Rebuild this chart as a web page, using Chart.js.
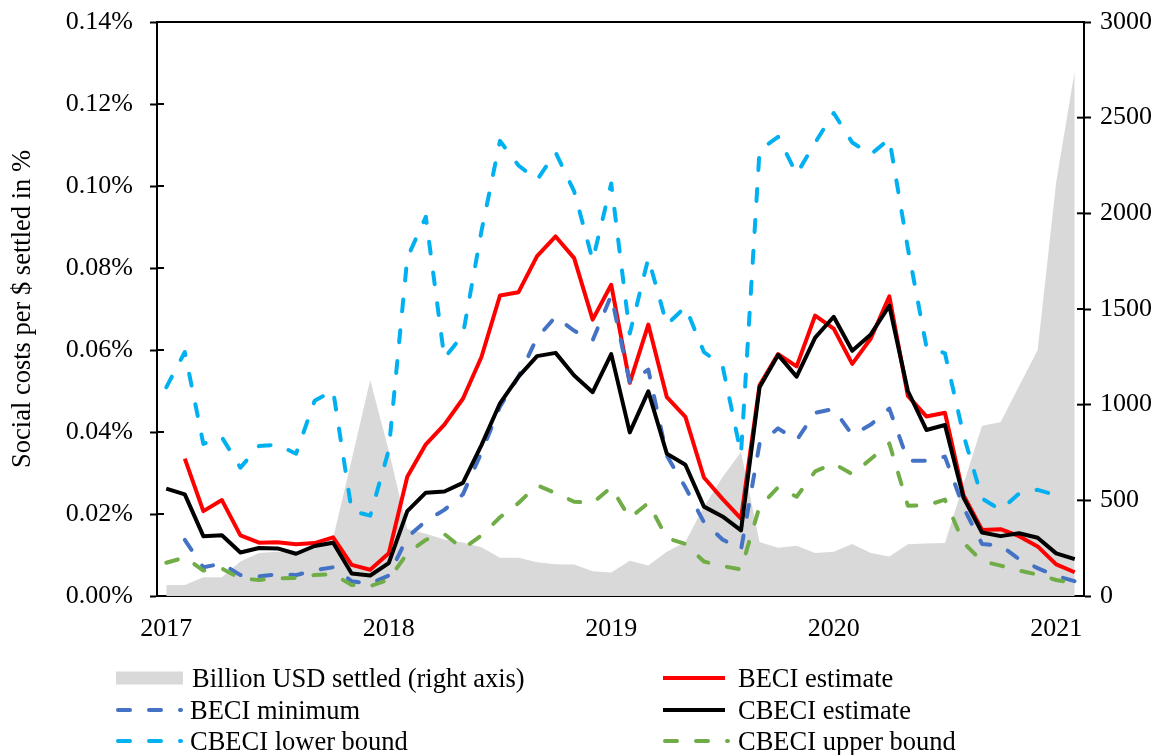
<!DOCTYPE html>
<html><head><meta charset="utf-8">
<script src="https://cdn.jsdelivr.net/npm/chart.js@4/dist/chart.umd.min.js"></script>
<style>
html,body{margin:0;padding:0;background:#fff;}
#wrap{position:relative;width:1166px;height:755px;overflow:hidden;}
#c{position:absolute;left:0;top:0;}
.lg{position:absolute;height:32px;font-family:"Liberation Serif","Times New Roman",serif;font-size:26.5px;color:#000;line-height:32px;white-space:nowrap;}
.lg svg{position:absolute;left:0;top:0;}
.lg span{position:absolute;top:0;}
</style></head><body>
<div id="wrap"><canvas id="c" width="1166" height="755"></canvas><div id="legend"></div></div>
<script>
const categories = [
 'Jan 2017','Feb 2017','Mar 2017','Apr 2017','May 2017','Jun 2017','Jul 2017','Aug 2017','Sep 2017','Oct 2017','Nov 2017','Dec 2017',
 'Jan 2018','Feb 2018','Mar 2018','Apr 2018','May 2018','Jun 2018','Jul 2018','Aug 2018','Sep 2018','Oct 2018','Nov 2018','Dec 2018',
 'Jan 2019','Feb 2019','Mar 2019','Apr 2019','May 2019','Jun 2019','Jul 2019','Aug 2019','Sep 2019','Oct 2019','Nov 2019','Dec 2019',
 'Jan 2020','Feb 2020','Mar 2020','Apr 2020','May 2020','Jun 2020','Jul 2020','Aug 2020','Sep 2020','Oct 2020','Nov 2020','Dec 2020',
 'Jan 2021','Feb 2021'];

// Billion USD settled (right axis)
const usdSettled = [57,57,98,98,180,225,231,225,252,303,712,1129,
 760,350,325,295,280,255,200,200,176,166,164,129,
 123,184,160,231,282,467,620,753,282,252,262,225,
 231,272,225,207,270,274,277,584,890,908,1097,1286,
 2164,2745];

// Social costs per $ settled, in %
const beciEstimate = [null,0.0335,0.0207,0.0234,0.0148,0.0130,0.0131,0.0126,0.0129,0.0143,0.0076,0.0064,
 0.0104,0.0291,0.0370,0.0418,0.0481,0.0583,0.0733,0.0741,0.0829,0.0877,0.0824,0.0674,
 0.0759,0.0520,0.0662,0.0485,0.0437,0.0289,0.0237,0.0189,0.0514,0.0590,0.0560,0.0684,
 0.0652,0.0566,0.0628,0.0731,0.0488,0.0438,0.0447,0.0246,0.0161,0.0163,0.0146,0.0121,
 0.0077,0.0058];

const beciMinimum = [null,0.0137,0.0070,0.0079,0.0051,0.0048,0.0053,0.0051,0.0063,0.0070,0.0036,0.0030,
 0.0050,0.0143,0.0183,0.0210,0.0248,0.0350,0.0462,0.0535,0.0630,0.0681,0.0647,0.0624,
 0.0733,0.0521,0.0552,0.0342,0.0265,0.0180,0.0138,0.0113,0.0371,0.0409,0.0380,0.0447,
 0.0456,0.0393,0.0418,0.0457,0.0330,0.0330,0.0340,0.0216,0.0127,0.0123,0.0090,0.0068,
 0.0049,0.0036];

const cbeciEstimate = [0.0262,0.0248,0.0146,0.0148,0.0106,0.0117,0.0116,0.0103,0.0122,0.0130,0.0055,0.0050,
 0.0080,0.0207,0.0252,0.0255,0.0276,0.0368,0.0470,0.0535,0.0585,0.0593,0.0538,0.0497,
 0.0590,0.0399,0.0499,0.0347,0.0320,0.0218,0.0194,0.0160,0.0509,0.0588,0.0535,0.0630,
 0.0681,0.0598,0.0638,0.0708,0.0500,0.0405,0.0417,0.0240,0.0155,0.0146,0.0153,0.0142,
 0.0104,0.0090];

const cbeciLower = [0.0509,0.0595,0.0371,0.0387,0.0313,0.0366,0.0369,0.0347,0.0476,0.0501,0.0208,0.0196,
 0.0356,0.0825,0.0925,0.0580,0.0637,0.0890,0.1110,0.1050,0.1015,0.1082,0.0987,0.0819,
 0.1006,0.0640,0.0824,0.0662,0.0705,0.0595,0.0562,0.0347,0.1087,0.1120,0.1029,0.1106,
 0.1178,0.1106,0.1077,0.1115,0.0848,0.0608,0.0592,0.0393,0.0238,0.0210,0.0250,0.0259,
 0.0246,null];

const cbeciUpper = [0.0081,0.0094,0.0062,0.0067,0.0043,0.0039,0.0043,0.0044,0.0051,0.0053,0.0027,0.0024,
 0.0040,0.0104,0.0137,0.0151,0.0115,0.0148,0.0192,0.0227,0.0270,0.0251,0.0230,0.0227,
 0.0265,0.0190,0.0227,0.0141,0.0127,0.0084,0.0073,0.0065,0.0218,0.0265,0.0242,0.0304,
 0.0323,0.0297,0.0334,0.0372,0.0220,0.0221,0.0235,0.0130,0.0085,0.0074,0.0062,0.0052,
 0.0039,0.0031];

const leftTicks = [0,0.02,0.04,0.06,0.08,0.10,0.12,0.14];
const rightTicks = [0,500,1000,1500,2000,2500,3000];
const seriesNames = ['Billion USD settled (right axis)','BECI estimate','BECI minimum','CBECI estimate','CBECI lower bound','CBECI upper bound'];
const seriesColors = ['#D9D9D9','#FF0000','#4472C4','#000000','#00B0F0','#70AD47'];

const FONT = {family:'"Liberation Serif","Times New Roman",serif', size:26};
const DASH = [12,19];
const TARGET = {left:157, right:1084, top:22, bottom:596};

function lineDs(label, data, color, dashed, order){
  return {type:'line', label, data, yAxisID:'y', borderColor:color, backgroundColor:color,
    borderWidth:4, borderDash: dashed?DASH:[], borderCapStyle: dashed?'round':'butt',
    borderJoinStyle:'round', pointRadius:0, pointHoverRadius:0, tension:0, fill:false, spanGaps:false, order};
}

const crossTicks = {
  id:'crossTicks',
  afterDraw(chart){
    const ctx = chart.ctx, a = chart.chartArea;
    ctx.save(); ctx.strokeStyle='#000'; ctx.lineWidth=2;
    ctx.beginPath(); ctx.moveTo(a.left-1,a.top); ctx.lineTo(a.right+1,a.top); ctx.stroke();
    const ys = chart.scales.y, y2 = chart.scales.y2;
    ys.ticks.forEach(t=>{const p=ys.getPixelForValue(t.value);ctx.beginPath();ctx.moveTo(a.left,p);ctx.lineTo(a.left+7,p);ctx.stroke();});
    y2.ticks.forEach(t=>{const p=y2.getPixelForValue(t.value);ctx.beginPath();ctx.moveTo(a.right,p);ctx.lineTo(a.right-7,p);ctx.stroke();});
    ctx.restore();
  }
};

const chart = new Chart(document.getElementById('c'), {
  type:'line',
  data:{
    labels: categories,
    datasets:[
      {type:'line', label:seriesNames[0], data:usdSettled, yAxisID:'y2', fill:'origin',
       backgroundColor:seriesColors[0], borderColor:seriesColors[0], borderWidth:0, pointRadius:0, tension:0, order:10},
      lineDs(seriesNames[1], beciEstimate, seriesColors[1], false, 5),
      lineDs(seriesNames[2], beciMinimum, seriesColors[2], true, 4),
      lineDs(seriesNames[3], cbeciEstimate, seriesColors[3], false, 3),
      lineDs(seriesNames[4], cbeciLower, seriesColors[4], true, 2),
      lineDs(seriesNames[5], cbeciUpper, seriesColors[5], true, 1)
    ]
  },
  options:{
    responsive:false, animation:false, devicePixelRatio:1,
    layout:{padding:{top:22,left:0,right:0,bottom:0}},
    plugins:{legend:{display:false}, tooltip:{enabled:false}},
    scales:{
      x:{type:'category', offset:true, z:1,
         grid:{display:false}, border:{display:true,color:'#000',width:2},
         ticks:{autoSkip:false, maxRotation:0, minRotation:0, color:'#000', font:FONT, padding:10,
           callback:function(v,i){const c=categories[i]; return c.startsWith('Jan')?c.slice(4):'';}},
         afterFit:s=>{s.height=159; s.paddingLeft=0; s.paddingRight=0;}},
      y:{position:'left', min:0, max:0.14, z:1,
         afterBuildTicks:s=>{s.ticks=leftTicks.map(v=>({value:v}));},
         grid:{drawOnChartArea:false, drawTicks:true, tickLength:7, color:'#000', tickWidth:2},
         border:{display:true,color:'#000',width:2},
         ticks:{color:'#000', font:FONT, padding:17, callback:v=>v.toFixed(2)+'%'},
         title:{display:true, text:'Social costs per $ settled in %', color:'#000', font:{family:FONT.family,size:26.5}, padding:{top:7,bottom:0}},
         afterFit:s=>{s.width=157; s.paddingTop=0; s.paddingBottom=0;}},
      y2:{position:'right', min:0, max:3000, z:1,
         afterBuildTicks:s=>{s.ticks=rightTicks.map(v=>({value:v}));},
         grid:{drawOnChartArea:false, drawTicks:true, tickLength:7, color:'#000', tickWidth:2},
         border:{display:true,color:'#000',width:2},
         ticks:{color:'#000', font:FONT, padding:9, callback:v=>String(v)},
         afterFit:s=>{s.width=82; s.paddingTop=0; s.paddingBottom=0;}}
    }
  },
  plugins:[crossTicks]
});
// correct the plot area so it sits where the reference puts it
const dTop = TARGET.top - chart.chartArea.top;
const dBottom = chart.chartArea.bottom - TARGET.bottom;
if (Math.abs(dTop) > 0.5 || Math.abs(dBottom) > 0.5) {
  chart.options.layout.padding.top = Math.max(0, 22 + dTop);
  chart.options.scales.x.afterFit = s => { s.height = 159 + dBottom; s.paddingLeft=0; s.paddingRight=0; };
  chart.update();
}

// Legend (two columns, row-major order)
const legendPos = [[116,678],[663,678],[116,710],[663,710],[116,741],[663,741]];
const legendKind = ['box','solid','dash','solid','dash','dash'];
const lg = document.getElementById('legend');
seriesNames.forEach((name,i)=>{
  const [x,yc] = legendPos[i];
  const d = document.createElement('div');
  d.className='lg'; d.style.left=x+'px'; d.style.top=(yc-16)+'px';
  let icon, tx;
  const c = seriesColors[i];
  if(legendKind[i]==='box'){ icon=`<svg width="70" height="32"><rect x="0" y="9.5" width="67" height="13" fill="${c}"/></svg>`; tx=76; }
  else if(legendKind[i]==='solid'){ icon=`<svg width="66" height="32"><line x1="0" y1="16" x2="62" y2="16" stroke="${c}" stroke-width="4"/></svg>`; tx=75; }
  else { icon=`<svg width="70" height="32"><line x1="2" y1="16" x2="65" y2="16" stroke="${c}" stroke-width="4" stroke-linecap="round" stroke-dasharray="12 19"/></svg>`; tx = (x<400)?74:75; }
  d.innerHTML = icon + `<span style="left:${tx}px">${name}</span>`;
  lg.appendChild(d);
});
</script>
</body></html>
